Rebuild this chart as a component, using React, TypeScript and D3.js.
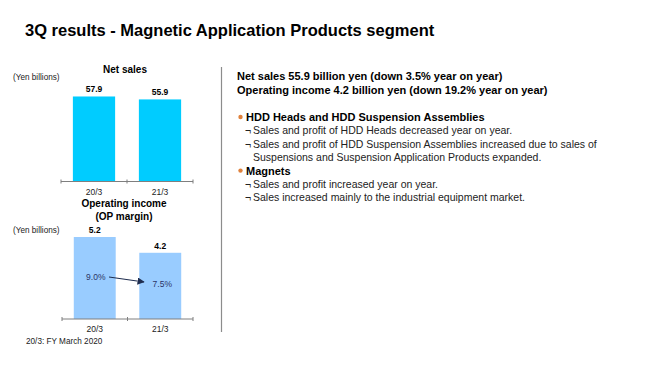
import React from 'react';
import * as d3 from 'd3';

const categories = ['20/3', '21/3'];
const netSales = [57.9, 55.9];
const opIncome = [5.2, 4.2];
const opMargin = ['9.0%', '7.5%'];

const summaryLines = [
  'Net sales 55.9 billion yen (down 3.5% year on year)',
  'Operating income 4.2 billion yen (down 19.2% year on year)',
];

const bulletGroups = [
  {
    head: 'HDD Heads and HDD Suspension Assemblies',
    items: [
      ['Sales and profit of HDD Heads decreased year on year.'],
      [
        'Sales and profit of HDD Suspension Assemblies increased due to sales of',
        'Suspensions and Suspension Application Products expanded.',
      ],
    ],
  },
  {
    head: 'Magnets',
    items: [
      ['Sales and profit increased year on year.'],
      ['Sales increased mainly to the industrial equipment market.'],
    ],
  },
];

const FONT = 'Arial, "Liberation Sans", Helvetica, sans-serif';

interface BarPanelProps {
  values: number[];
  labels: string[];
  domainMax: number;
  xRange: [number, number];
  yBase: number;
  yTop: number;
  color: string;
}

// one little bar chart with its flat axis and tick marks
const BarPanel: React.FC<BarPanelProps> = ({ values, labels, domainMax, xRange, yBase, yTop, color }) => {
  const x = d3.scaleBand<string>()
    .domain(categories)
    .range(xRange)
    .paddingInner(0.36)
    .paddingOuter(0.18);
  const y = d3.scaleLinear().domain([0, domainMax]).range([yBase, yTop]);

  const tickXs = [xRange[0], (xRange[0] + xRange[1]) / 2, xRange[1]];

  return (
    <g>
      {categories.map((c, i) => (
        <rect
          key={c}
          x={x(c)}
          y={y(values[i])}
          width={x.bandwidth()}
          height={yBase - y(values[i])}
          fill={color}
        />
      ))}
      <line x1={xRange[0]} x2={xRange[1]} y1={yBase} y2={yBase} stroke="#7f7f7f" strokeWidth={1} />
      {tickXs.map((tx, i) => (
        <line key={i} x1={tx} x2={tx} y1={yBase - 2} y2={yBase + 2} stroke="#7f7f7f" strokeWidth={1} />
      ))}
      {categories.map((c, i) => (
        <text
          key={c}
          x={(x(c) ?? 0) + x.bandwidth() / 2}
          y={y(values[i]) - 4}
          textAnchor="middle"
          fontSize={8.5}
          fontWeight="bold"
          fill="#000"
        >
          {labels[i]}
        </text>
      ))}
      {categories.map((c) => (
        <text
          key={c + 'lab'}
          x={(x(c) ?? 0) + x.bandwidth() / 2}
          y={yBase + 13}
          textAnchor="middle"
          fontSize={8.5}
          fill="#222"
        >
          {c}
        </text>
      ))}
    </g>
  );
};

const App: React.FC = () => {
  const W = 660;
  const H = 371;

  // op income scale again, for the margin labels and arrow
  const xOp = d3.scaleBand<string>().domain(categories).range([62, 193]).paddingInner(0.36).paddingOuter(0.18);
  const mid = (c: string) => (xOp(c) ?? 0) + xOp.bandwidth() / 2;

  const lineH = 13.4;
  let yCursor = 117;

  return (
    <div style={{ position: 'fixed', left: 0, top: 0, width: W, height: H, background: '#fff' }}>
      <svg width={W} height={H} style={{ display: 'block', fontFamily: FONT }}>
        <defs>
          <marker id="arrowHead" viewBox="0 0 10 10" refX="9" refY="5" markerWidth="6" markerHeight="6" orient="auto">
            <path d="M0,0 L10,5 L0,10 z" fill="#1f2d4f" />
          </marker>
        </defs>
        <rect width={W} height={H} fill="#fff" />

        <text x={25} y={36} fontSize={16.5} fontWeight="bold" fill="#000">
          3Q results - Magnetic Application Products segment
        </text>

        {/* net sales */}
        <text x={125} y={73} textAnchor="middle" fontSize={10} fontWeight="bold">Net sales</text>
        <text x={13} y={80} fontSize={8.2} fill="#222">(Yen billions)</text>
        <BarPanel
          values={netSales}
          labels={netSales.map((v) => v.toFixed(1))}
          domainMax={60}
          xRange={[61, 193]}
          yBase={181.5}
          yTop={93.4}
          color="#00ccff"
        />

        {/* operating income */}
        <text x={124} y={207} textAnchor="middle" fontSize={10} fontWeight="bold">Operating income</text>
        <text x={124} y={220} textAnchor="middle" fontSize={10} fontWeight="bold">(OP margin)</text>
        <text x={13} y={233} fontSize={8.2} fill="#222">(Yen billions)</text>
        <BarPanel
          values={opIncome}
          labels={opIncome.map((v) => v.toFixed(1))}
          domainMax={6}
          xRange={[62, 193]}
          yBase={319}
          yTop={224.4}
          color="#99ccff"
        />
        <text x={mid(categories[0]) + 1} y={280} textAnchor="middle" fontSize={8.5} fill="#2b3566">{opMargin[0]}</text>
        <text x={mid(categories[1]) + 2} y={287} textAnchor="middle" fontSize={8.5} fill="#2b3566">{opMargin[1]}</text>
        <line x1={109} y1={277} x2={144} y2={282} stroke="#1f2d4f" strokeWidth={1.2} markerEnd="url(#arrowHead)" />

        <text x={26} y={344} fontSize={8.2} fill="#222">20/3: FY March 2020</text>

        {/* separator */}
        <line x1={221.5} x2={221.5} y1={67} y2={332} stroke="#8c8c8c" strokeWidth={1.2} />

        {/* commentary */}
        {summaryLines.map((s, i) => (
          <text key={s} x={237} y={80 + i * 14} fontSize={11} fontWeight="bold" fill="#000">{s}</text>
        ))}
        {bulletGroups.map((g) => {
          const headY = yCursor;
          yCursor += lineH;
          const rows = g.items.map((item) =>
            item.map((ln, j) => {
              const yy = yCursor;
              yCursor += lineH;
              return (
                <g key={ln}>
                  {j === 0 && <text x={245} y={yy + 3.8} fontSize={10.5} fill="#222">¬</text>}
                  <text x={253} y={yy + 3.8} fontSize={10.5} fill="#222">{ln}</text>
                </g>
              );
            })
          );
          return (
            <g key={g.head}>
              <circle cx={240.5} cy={headY} r={2.2} fill="#e0823d" />
              <text x={246} y={headY + 4} fontSize={11} fontWeight="bold" fill="#000">{g.head}</text>
              {rows}
            </g>
          );
        })}
      </svg>
    </div>
  );
};

export default App;
